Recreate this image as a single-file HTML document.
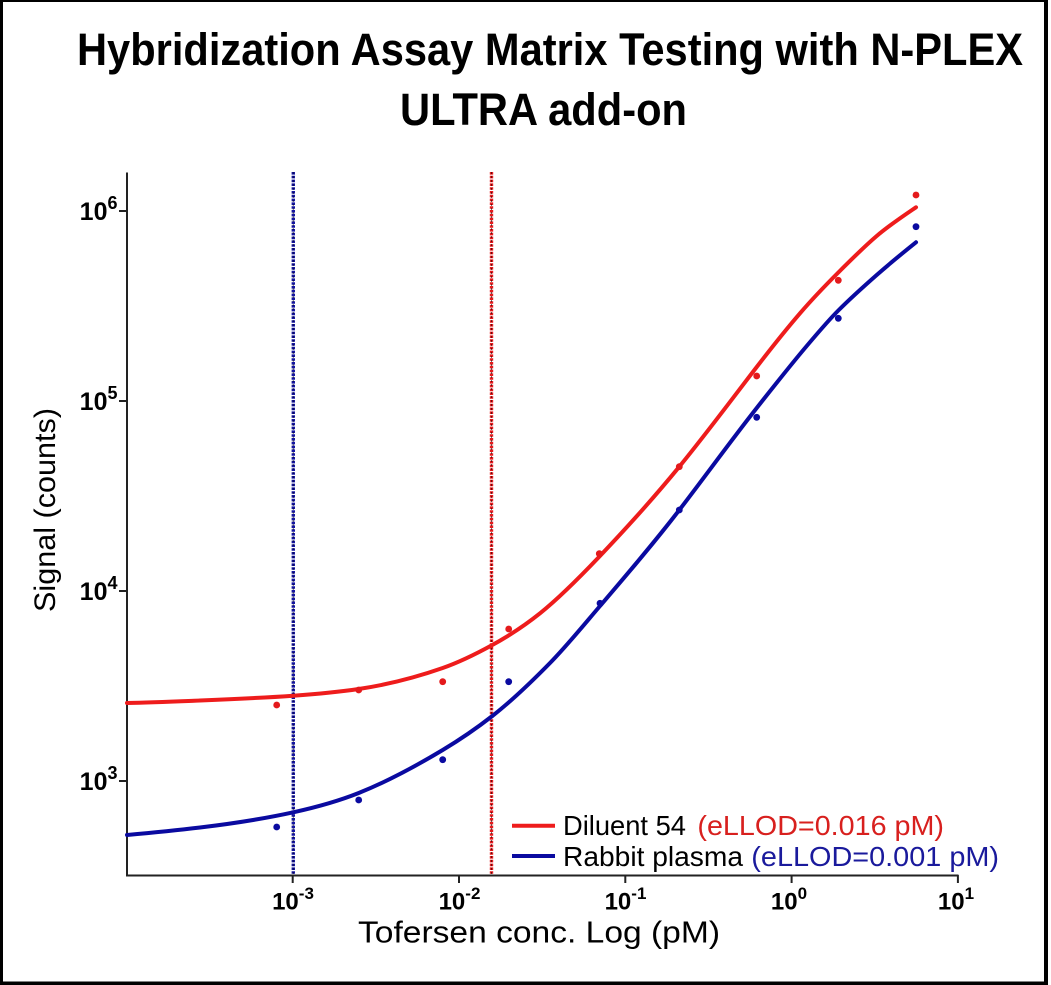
<!DOCTYPE html>
<html>
<head>
<meta charset="utf-8">
<style>
  html, body { margin: 0; padding: 0; background: #ffffff; }
  svg { display: block; }
  text { font-family: "Liberation Sans", Arial, sans-serif; }
</style>
</head>
<body>
<svg width="1051" height="985" viewBox="0 0 1051 985" xmlns="http://www.w3.org/2000/svg">
  <rect x="0" y="0" width="1051" height="985" fill="#ffffff"/>
  <!-- outer border -->
  <rect x="0" y="0" width="3" height="985" fill="#000"/>
  <rect x="0" y="0" width="1048" height="2" fill="#000"/>
  <rect x="1044" y="0" width="4" height="985" fill="#000"/>
  <rect x="0" y="981.5" width="1048" height="3.5" fill="#000"/>

  <!-- title -->
  <text x="77" y="65" font-size="45" font-weight="bold" fill="#000" textLength="946" lengthAdjust="spacingAndGlyphs">Hybridization Assay Matrix Testing with N-PLEX</text>
  <text x="400" y="125" font-size="45" font-weight="bold" fill="#000" textLength="287" lengthAdjust="spacingAndGlyphs">ULTRA add-on</text>

  <!-- dashed eLLOD lines -->
  <line x1="293.3" y1="172" x2="293.3" y2="875" stroke="#1414a0" stroke-width="3.4" stroke-dasharray="2.6 1.2"/>
  <line x1="293.3" y1="172" x2="293.3" y2="875" stroke="#000" stroke-opacity="0.55" stroke-width="1" stroke-dasharray="2 2"/>
  <line x1="491.5" y1="172" x2="491.5" y2="875" stroke="#e41a1c" stroke-width="3.4" stroke-dasharray="2.6 1.2"/>
  <line x1="491.5" y1="172" x2="491.5" y2="875" stroke="#000" stroke-opacity="0.55" stroke-width="1" stroke-dasharray="2 2"/>

  <!-- axes -->
  <line x1="127" y1="172.5" x2="127" y2="876.5" stroke="#222" stroke-width="2"/>
  <line x1="126" y1="875.5" x2="958.5" y2="875.5" stroke="#222" stroke-width="2"/>

  <!-- y ticks -->
  <g stroke="#222" stroke-width="2">
    <line x1="119" y1="211" x2="127" y2="211"/>
    <line x1="119" y1="401" x2="127" y2="401"/>
    <line x1="119" y1="591" x2="127" y2="591"/>
    <line x1="119" y1="781" x2="127" y2="781"/>
  </g>
  <g font-size="25" font-weight="bold" fill="#000" text-anchor="end">
    <text x="117.5" y="220">10<tspan dy="-11" font-size="18">6</tspan></text>
    <text x="117.5" y="410">10<tspan dy="-11" font-size="18">5</tspan></text>
    <text x="117.5" y="600">10<tspan dy="-11" font-size="18">4</tspan></text>
    <text x="117.5" y="790">10<tspan dy="-11" font-size="18">3</tspan></text>
  </g>

  <!-- x ticks -->
  <g stroke="#222" stroke-width="2">
    <line x1="292.7" y1="875" x2="292.7" y2="883"/>
    <line x1="459" y1="875" x2="459" y2="883"/>
    <line x1="625.3" y1="875" x2="625.3" y2="883"/>
    <line x1="791.6" y1="875" x2="791.6" y2="883"/>
    <line x1="957.9" y1="875" x2="957.9" y2="883"/>
  </g>
  <g font-size="24" font-weight="bold" fill="#000" text-anchor="middle">
    <text x="293" y="909.5">10<tspan dy="-10.5" font-size="17">-3</tspan></text>
    <text x="459.5" y="909.5">10<tspan dy="-10.5" font-size="17">-2</tspan></text>
    <text x="625.5" y="909.5">10<tspan dy="-10.5" font-size="17">-1</tspan></text>
    <text x="789" y="909.5">10<tspan dy="-10.5" font-size="17">0</tspan></text>
    <text x="956" y="909.5">10<tspan dy="-10.5" font-size="17">1</tspan></text>
  </g>

  <!-- axis labels -->
  <text x="358" y="942.7" font-size="31" fill="#000" textLength="362" lengthAdjust="spacingAndGlyphs">Tofersen conc. Log (pM)</text>
  <text transform="translate(55,510) rotate(-90)" x="0" y="0" font-size="30" fill="#000" text-anchor="middle" textLength="204" lengthAdjust="spacingAndGlyphs">Signal (counts)</text>

  <!-- red fitted curve -->
  <path fill="none" stroke="#ee1c1c" stroke-width="4" stroke-linecap="round" d="M127,703
    C151.33,702.51 175.67,701.47 200,700.5
    C231.1,699.26 262.2,697.88 293.3,695.7
    C315.1,694.17 336.9,692.27 358.7,689
    C386.7,684.8 414.7,677.8 442.7,668
    C459.23,662.21 475.77,654.09 492.3,645
    C508.2,636.26 524.1,626.02 540,613.3
    C559.67,597.57 579.33,577.65 599,557
    C625.77,528.9 652.53,499.36 679.3,466.7
    C705.1,435.22 730.9,400.54 756.7,367
    C771.13,348.24 785.57,330.04 800,313.3
    C812.77,298.49 825.53,285.27 838.3,272.5
    C851.1,259.7 863.9,246.88 876.7,236
    C889.8,224.87 902.9,216.21 916,207.3"/>

  <!-- blue fitted curve -->
  <path fill="none" stroke="#0a0aa0" stroke-width="4" stroke-linecap="round" d="M127,835
    C151.33,832.81 175.67,830.42 200,827.5
    C231.1,823.77 262.2,819.14 293.3,812.3
    C315.1,807.5 336.9,801.72 358.7,793
    C386.7,781.8 414.7,766.8 442.7,750
    C459.23,740.08 475.77,728.9 492.3,716
    C511.53,701.0 530.77,682.62 550,663
    C566.67,646.0 583.33,625.5 600,606
    C626.43,575.07 652.87,544.37 679.3,510
    C705.1,476.46 730.9,440.77 756.7,408
    C773.37,386.83 790.03,365.67 806.7,346
    C817.23,333.57 827.77,321.03 838.3,310.5
    C851.1,297.7 863.9,286.26 876.7,275
    C889.8,263.47 902.9,252.78 916,242.3"/>

  <!-- red data points -->
  <g fill="#e41a1c">
    <circle cx="276.7" cy="705" r="3.4"/>
    <circle cx="358.7" cy="690" r="3.4"/>
    <circle cx="442.7" cy="681.7" r="3.4"/>
    <circle cx="508.7" cy="629" r="3.4"/>
    <circle cx="599.3" cy="553.7" r="3.4"/>
    <circle cx="679.3" cy="466.7" r="3.4"/>
    <circle cx="756.7" cy="376" r="3.4"/>
    <circle cx="838.3" cy="280.3" r="3.4"/>
    <circle cx="916" cy="195" r="3.4"/>
  </g>
  <!-- blue data points -->
  <g fill="#0a0aa0">
    <circle cx="276.7" cy="827" r="3.4"/>
    <circle cx="358.7" cy="800" r="3.4"/>
    <circle cx="442.7" cy="759.7" r="3.4"/>
    <circle cx="508.7" cy="681.7" r="3.4"/>
    <circle cx="600" cy="603.3" r="3.4"/>
    <circle cx="679.3" cy="510" r="3.4"/>
    <circle cx="756.7" cy="417.3" r="3.4"/>
    <circle cx="838.3" cy="318.3" r="3.4"/>
    <circle cx="916" cy="226.7" r="3.4"/>
  </g>

  <!-- legend -->
  <line x1="512" y1="825.7" x2="555" y2="825.7" stroke="#ee1c1c" stroke-width="4"/>
  <line x1="512" y1="856" x2="555" y2="856" stroke="#0a0aa0" stroke-width="4"/>
  <g font-size="28">
    <text x="563" y="835" fill="#000" textLength="123" lengthAdjust="spacingAndGlyphs">Diluent 54</text>
    <text x="697.4" y="835" fill="#d8201e" textLength="246.6" lengthAdjust="spacingAndGlyphs">(eLLOD=0.016 pM)</text>
    <text x="563" y="866" fill="#000" textLength="180" lengthAdjust="spacingAndGlyphs">Rabbit plasma</text>
    <text x="751.3" y="866" fill="#1a1a9c" textLength="247.7" lengthAdjust="spacingAndGlyphs">(eLLOD=0.001 pM)</text>
  </g>
</svg>
</body>
</html>
